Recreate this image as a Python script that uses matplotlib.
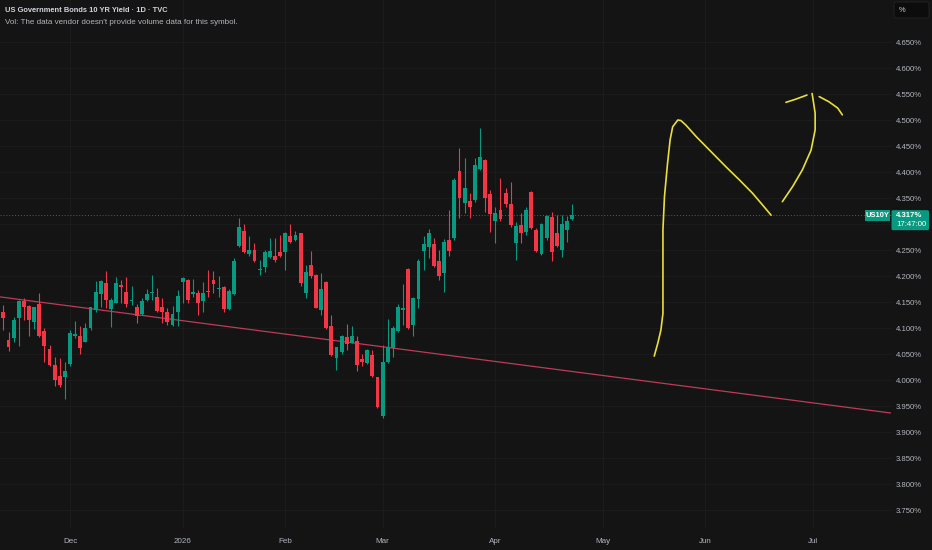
import numpy as np
import pandas as pd
import matplotlib
matplotlib.use('Agg')
import matplotlib.pyplot as plt
from matplotlib.patches import Rectangle, FancyBboxPatch
from matplotlib.transforms import IdentityTransform

plt.rcParams['font.family'] = ['Liberation Sans', 'DejaVu Sans']

# ---------------- data ----------------
TITLE = "US Government Bonds 10 YR Yield · 1D · TVC"
SUBTITLE = "Vol: The data vendor doesn't provide volume data for this symbol."
SYMBOL = "US10Y"
LAST_TIME = "17:47:00"
UNIT = "%"

FIRST_DAY = '2025-11-11'
LAST_DAY = '2026-07-31'
HOLIDAYS = ['2025-11-27', '2025-12-25', '2026-01-01', '2026-01-19', '2026-02-16',
            '2026-04-03', '2026-05-25', '2026-06-19', '2026-07-03']

opens = [4.130, 4.077, 4.080, 4.119, 4.151, 4.142, 4.112, 4.146, 4.095, 4.060,
         4.029, 4.008, 4.006, 4.031, 4.085, 4.085, 4.074, 4.100, 4.135, 4.165,
         4.186, 4.136, 4.149, 4.183, 4.170, 4.152, 4.140, 4.127, 4.154, 4.167,
         4.159, 4.140, 4.130, 4.106, 4.131, 4.189, 4.192, 4.165, 4.168, 4.151,
         4.172, 4.192, 4.175, 4.178, 4.136, 4.165, 4.258, 4.287, 4.242, 4.250,
         4.212, 4.218, 4.237, 4.239, 4.246, 4.247, 4.276, 4.269, 4.282, 4.167,
         4.221, 4.202, 4.135, 4.189, 4.104, 4.042, 4.054, 4.083, 4.072, 4.075,
         4.040, 4.032, 4.049, 4.005, 3.930, 4.035, 4.061, 4.095, 4.135, 4.213,
         4.106, 4.155, 4.248, 4.256, 4.262, 4.228, 4.205, 4.269, 4.273, 4.401,
         4.340, 4.345, 4.346, 4.405, 4.423, 4.357, 4.306, 4.327, 4.360, 4.339,
         4.264, 4.298, 4.285, 4.362, 4.289, 4.242, 4.273, 4.313, 4.283, 4.250,
         4.288, 4.309]
highs = [4.144, 4.093, 4.122, 4.154, 4.157, 4.144, 4.141, 4.167, 4.100, 4.067,
         4.045, 4.042, 4.034, 4.096, 4.114, 4.103, 4.110, 4.141, 4.190, 4.192,
         4.210, 4.157, 4.199, 4.192, 4.199, 4.181, 4.146, 4.157, 4.175, 4.202,
         4.176, 4.157, 4.138, 4.142, 4.173, 4.198, 4.194, 4.194, 4.173, 4.189,
         4.212, 4.210, 4.200, 4.180, 4.175, 4.234, 4.311, 4.300, 4.276, 4.263,
         4.231, 4.250, 4.273, 4.273, 4.279, 4.285, 4.300, 4.287, 4.283, 4.221,
         4.249, 4.204, 4.206, 4.191, 4.125, 4.064, 4.087, 4.108, 4.104, 4.085,
         4.050, 4.059, 4.058, 4.006, 4.067, 4.117, 4.103, 4.146, 4.185, 4.215,
         4.160, 4.232, 4.277, 4.290, 4.273, 4.250, 4.271, 4.327, 4.389, 4.446,
         4.426, 4.360, 4.427, 4.484, 4.425, 4.365, 4.333, 4.388, 4.369, 4.381,
         4.303, 4.321, 4.333, 4.364, 4.292, 4.301, 4.317, 4.324, 4.317, 4.317,
         4.315, 4.338]
lows = [4.096, 4.055, 4.074, 4.065, 4.115, 4.085, 4.098, 4.083, 4.035, 4.026,
        3.989, 3.987, 3.963, 4.026, 4.080, 4.050, 4.073, 4.096, 4.131, 4.141,
        4.138, 4.101, 4.148, 4.148, 4.141, 4.144, 4.109, 4.125, 4.152, 4.154,
        4.131, 4.110, 4.106, 4.104, 4.104, 4.148, 4.148, 4.160, 4.125, 4.131,
        4.160, 4.167, 4.159, 4.131, 4.135, 4.164, 4.256, 4.245, 4.239, 4.227,
        4.202, 4.208, 4.234, 4.226, 4.236, 4.212, 4.264, 4.268, 4.181, 4.157,
        4.196, 4.138, 4.125, 4.098, 4.046, 4.019, 4.050, 4.058, 4.071, 4.018,
        4.026, 4.031, 4.006, 3.946, 3.926, 4.032, 4.045, 4.093, 4.106, 4.098,
        4.085, 4.138, 4.212, 4.234, 4.218, 4.192, 4.170, 4.239, 4.269, 4.311,
        4.321, 4.312, 4.343, 4.404, 4.324, 4.285, 4.263, 4.305, 4.333, 4.295,
        4.231, 4.263, 4.279, 4.290, 4.247, 4.240, 4.269, 4.228, 4.256, 4.237,
        4.266, 4.308]
closes = [4.119, 4.064, 4.115, 4.151, 4.140, 4.115, 4.140, 4.085, 4.066, 4.029,
          4.000, 3.990, 4.018, 4.091, 4.088, 4.061, 4.100, 4.140, 4.170, 4.190,
          4.154, 4.154, 4.187, 4.178, 4.146, 4.154, 4.123, 4.151, 4.165, 4.168,
          4.133, 4.131, 4.112, 4.126, 4.162, 4.196, 4.154, 4.170, 4.149, 4.167,
          4.169, 4.185, 4.176, 4.136, 4.172, 4.229, 4.295, 4.247, 4.250, 4.229,
          4.213, 4.246, 4.248, 4.231, 4.239, 4.282, 4.266, 4.279, 4.186, 4.208,
          4.200, 4.139, 4.175, 4.100, 4.048, 4.063, 4.085, 4.069, 4.085, 4.029,
          4.035, 4.058, 4.008, 3.948, 4.034, 4.064, 4.100, 4.141, 4.138, 4.100,
          4.157, 4.229, 4.261, 4.283, 4.219, 4.200, 4.266, 4.248, 4.385, 4.350,
          4.369, 4.332, 4.414, 4.428, 4.350, 4.319, 4.322, 4.309, 4.339, 4.298,
          4.296, 4.282, 4.326, 4.292, 4.249, 4.300, 4.315, 4.247, 4.258, 4.300,
          4.305, 4.317]

month_starts = ['2025-12-01', '2026-01-02', '2026-02-02', '2026-03-02',
                '2026-04-01', '2026-05-01', '2026-06-01', '2026-07-01']
month_labels = ['Dec', '2026', 'Feb', 'Mar', 'Apr', 'May', 'Jun', 'Jul']

price_levels = [3.75, 3.80, 3.85, 3.90, 3.95, 4.00, 4.05, 4.10, 4.15, 4.20,
                4.25, 4.30, 4.35, 4.40, 4.45, 4.50, 4.55, 4.60, 4.65]
hidden_levels = [4.30]

# red trend line anchors (bar position, yield)
trend_x = [0, 172]
trend_y = [4.159, 3.938]

# yellow freehand drawing strokes (bar position, yield)
stroke1_x = [127.0, 127.7, 128.3, 128.7, 128.7, 128.7, 129.0, 129.6, 130.1, 130.6,
             131.6, 132.2, 133.2, 135.2, 137.8, 141.0, 143.6, 146.2, 148.1, 149.8]
stroke1_y = [4.046, 4.071, 4.096, 4.128, 4.192, 4.289, 4.353, 4.417, 4.462, 4.487,
             4.500, 4.499, 4.490, 4.468, 4.442, 4.410, 4.385, 4.359, 4.337, 4.317]
stroke2_x = [152.0, 154.0, 155.9, 157.6, 158.4, 158.4, 158.0, 157.8]
stroke2_y = [4.343, 4.372, 4.404, 4.442, 4.481, 4.513, 4.539, 4.551]
stroke3_x = [152.7, 154.6, 156.8]
stroke3_y = [4.534, 4.540, 4.548]
stroke4_x = [159.2, 161.1, 162.8, 163.7]
stroke4_y = [4.545, 4.535, 4.523, 4.510]

# ---------------- style ----------------
BG = '#141414'
GRID = '#1c1c1c'
UP = '#089981'
DOWN = '#f23645'
TXT = '#b2b5be'

W, H, DPI = 932, 550, 100
fig = plt.figure(figsize=(W / DPI, H / DPI), dpi=DPI, facecolor=BG)
ax = fig.add_axes([0, 22 / H, 891 / W, 528 / H])
ax.set_facecolor(BG)
for s in ax.spines.values():
    s.set_visible(False)

dates = pd.bdate_range(FIRST_DAY, LAST_DAY, freq='C', holidays=HOLIDAYS)
n = len(opens)
x = np.arange(n)
o = np.array(opens); h = np.array(highs); l = np.array(lows); c = np.array(closes)
cols = np.where(c >= o, UP, DOWN)

# grid
month_pos = [int(dates.searchsorted(pd.Timestamp(d))) for d in month_starts]
for p in month_pos:
    ax.axvline(p, color=GRID, lw=0.7, zorder=0)
for lv in price_levels:
    ax.axhline(lv, color=GRID, lw=0.7, zorder=0)

# candles
ax.vlines(x, l, h, colors=cols, lw=0.8, zorder=3)
body_h = np.maximum(np.abs(c - o), 0.0015)
ax.bar(x, body_h, bottom=np.minimum(o, c), width=0.76, color=cols, linewidth=0, zorder=4)

# trend line
ax.axline((trend_x[0], trend_y[0]), (trend_x[1], trend_y[1]), color='#bf3a58', lw=0.9, zorder=2)

# yellow drawing
for sx, sy in [(stroke1_x, stroke1_y), (stroke2_x, stroke2_y),
               (stroke3_x, stroke3_y), (stroke4_x, stroke4_y)]:
    ax.plot(sx, sy, color='#e8df3c', lw=1.2, solid_capstyle='round', zorder=5)

last = closes[-1]
ax.axhline(last, color=UP, lw=0.7, ls=(0, (1, 2)), alpha=0.8, zorder=2)

ax.set_xlim(-0.66, 173.2)
ax.set_ylim(3.7154, 4.7308)

ax.yaxis.tick_right()
ax.set_yticks(price_levels)
ax.set_yticklabels(['' if lv in hidden_levels else f"{lv:.3f}%" for lv in price_levels])
ax.tick_params(axis='y', length=0, pad=3.6, labelsize=5.6, labelcolor=TXT)
ax.set_xticks(month_pos)
ax.set_xticklabels(month_labels)
ax.tick_params(axis='x', length=0, pad=7, labelsize=5.8, labelcolor=TXT)

# header texts
fig.text(5 / W, 1 - 10 / H, TITLE, fontsize=5.4, fontweight='bold', color='#d1d4dc',
         ha='left', va='center')
fig.text(5 / W, 1 - 22 / H, SUBTITLE, fontsize=5.75, color=TXT, ha='left', va='center')

# unit box top right
ident = IdentityTransform()
fig.add_artist(FancyBboxPatch((894, H - 18), 35, 16, boxstyle='round,pad=0,rounding_size=2',
                              facecolor='#0c0c0c', edgecolor='#262626', lw=0.6, transform=ident))
fig.text(899, H - 10.5, UNIT, fontsize=5.4, color='#d1d4dc', ha='left', va='center',
         transform=ident)

# price labels
y_line = ax.transData.transform((0, last))[1]
fig.add_artist(Rectangle((865, y_line - 6), 24.5, 11, facecolor=UP, edgecolor='none',
                         transform=ident))
fig.text(877.2, y_line - 0.5, SYMBOL, fontsize=5.4, fontweight='bold', color='white',
         ha='center', va='center', transform=ident)
fig.add_artist(FancyBboxPatch((891.5, y_line - 15), 37.5, 20,
                              boxstyle='round,pad=0,rounding_size=1.5',
                              facecolor=UP, edgecolor='none', transform=ident))
fig.text(896, y_line - 0.5, f"{last:.3f}%", fontsize=5.6, fontweight='bold', color='white',
         ha='left', va='center', transform=ident)
fig.text(896, y_line - 9.8, LAST_TIME, fontsize=5.6, color='white',
         ha='left', va='center', transform=ident)

fig.savefig('out.png', dpi=DPI, facecolor=BG)
